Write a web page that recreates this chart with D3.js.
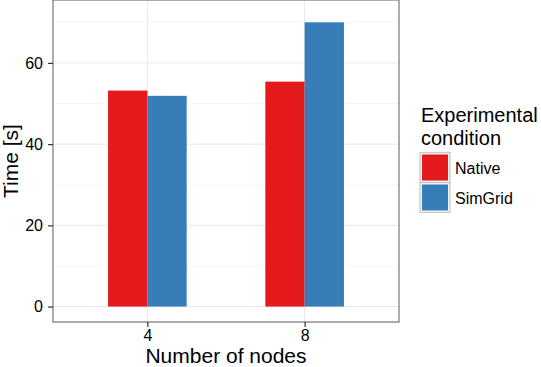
<!DOCTYPE html>
<html>
<head>
<meta charset="utf-8">
<script src="https://cdn.jsdelivr.net/npm/d3@7"></script>
<style>
  body { margin: 0; background: #fff; }
  text { font-family: "Liberation Sans", Arial, Helvetica, sans-serif; }
</style>
</head>
<body>
<svg id="canvas" width="541" height="367"></svg>
<script>
const nodes = ["4", "8"]
const conditions = ["Native", "SimGrid"]
const nativeTime = [53.2, 55.4]
const simgridTime = [51.9, 70.0]
const yTicks = [0, 20, 40, 60]
const yMinor = [10, 30, 50, 70]
const colors = ["#E41A1C", "#377EB8"]

const svg = d3.select("#canvas")

const panel = {left: 53, right: 399, top: 0, bottom: 322}

const x = d3.scalePoint()
            .domain(nodes)
            .range([panel.left, panel.right])
            .padding(0.6)

const y = d3.scaleLinear()
            .domain([-3.8, 75.5])
            .range([panel.bottom, panel.top])

const barW = x.step() * 0.25

// panel background + grid
svg.append("rect")
   .attr("x", panel.left).attr("y", panel.top)
   .attr("width", panel.right - panel.left).attr("height", panel.bottom - panel.top)
   .attr("fill", "#fff")

svg.selectAll(".minor")
   .data(yMinor)
   .enter()
   .append("line")
   .attr("x1", panel.left).attr("x2", panel.right)
   .attr("y1", d => y(d)).attr("y2", d => y(d))
   .attr("stroke", "#f6f6f6").attr("stroke-width", 1)

svg.selectAll(".major")
   .data(yTicks)
   .enter()
   .append("line")
   .attr("x1", panel.left).attr("x2", panel.right)
   .attr("y1", d => y(d)).attr("y2", d => y(d))
   .attr("stroke", "#e8e8e8").attr("stroke-width", 1)

svg.selectAll(".vmajor")
   .data(nodes)
   .enter()
   .append("line")
   .attr("y1", panel.top).attr("y2", panel.bottom)
   .attr("x1", d => x(d)).attr("x2", d => x(d))
   .attr("stroke", "#e8e8e8").attr("stroke-width", 1)

// bars
const series = [nativeTime, simgridTime]
series.forEach((vals, s) => {
  svg.selectAll(".bar" + s)
     .data(vals)
     .enter()
     .append("rect")
     .attr("x", (d, i) => x(nodes[i]) + (s - 1) * barW)
     .attr("width", barW)
     .attr("y", d => y(d))
     .attr("height", d => y(0) - y(d))
     .attr("fill", colors[s])
})

// border
svg.append("rect")
   .attr("x", panel.left).attr("y", panel.top)
   .attr("width", panel.right - panel.left).attr("height", panel.bottom - panel.top)
   .attr("fill", "none").attr("stroke", "#808080").attr("stroke-width", 1.3)

// axes
const yAxis = d3.axisLeft(y).tickValues(yTicks).tickSize(5).tickPadding(5)
const gy = svg.append("g").attr("transform", `translate(${panel.left},0)`).call(yAxis)
gy.select(".domain").remove()
gy.selectAll("line").attr("stroke", "#333").attr("stroke-width", 1.2)
gy.selectAll("text").attr("font-size", 16).attr("fill", "#000")
  .attr("font-family", "Liberation Sans, Arial, sans-serif")

const xAxis = d3.axisBottom(x).tickSize(5).tickPadding(3)
const gx = svg.append("g").attr("transform", `translate(0,${panel.bottom})`).call(xAxis)
gx.select(".domain").remove()
gx.selectAll("line").attr("stroke", "#333").attr("stroke-width", 1.2)
gx.selectAll("text").attr("font-size", 16).attr("fill", "#000")
  .attr("font-family", "Liberation Sans, Arial, sans-serif")

// axis titles
svg.append("text")
   .attr("x", (panel.left + panel.right) / 2)
   .attr("y", 363)
   .attr("text-anchor", "middle")
   .attr("font-size", 21)
   .text("Number of nodes")

svg.append("text")
   .attr("transform", `translate(18,${(panel.top + panel.bottom) / 2}) rotate(-90)`)
   .attr("text-anchor", "middle")
   .attr("font-size", 21)
   .text("Time [s]")

// legend
const legend = svg.append("g").attr("transform", "translate(420,0)")
legend.append("text").attr("x", 1).attr("y", 122).attr("font-size", 20).text("Experimental")
legend.append("text").attr("x", 1).attr("y", 145).attr("font-size", 20).text("condition")

const keys = legend.selectAll(".key")
                   .data(conditions)
                   .enter()
                   .append("g")
                   .attr("transform", (d, i) => `translate(0,${152.5 + i * 30})`)
keys.append("rect")
    .attr("width", 30).attr("height", 30)
    .attr("fill", "#f2f2f2").attr("stroke", "#c8c8c8").attr("stroke-width", 1.2)
keys.append("rect")
    .attr("x", 2).attr("y", 2).attr("width", 26).attr("height", 26)
    .attr("fill", (d, i) => colors[i])
keys.append("text")
    .attr("x", 35).attr("y", 21)
    .attr("font-size", 16)
    .text(d => d)
</script>
</body>
</html>
